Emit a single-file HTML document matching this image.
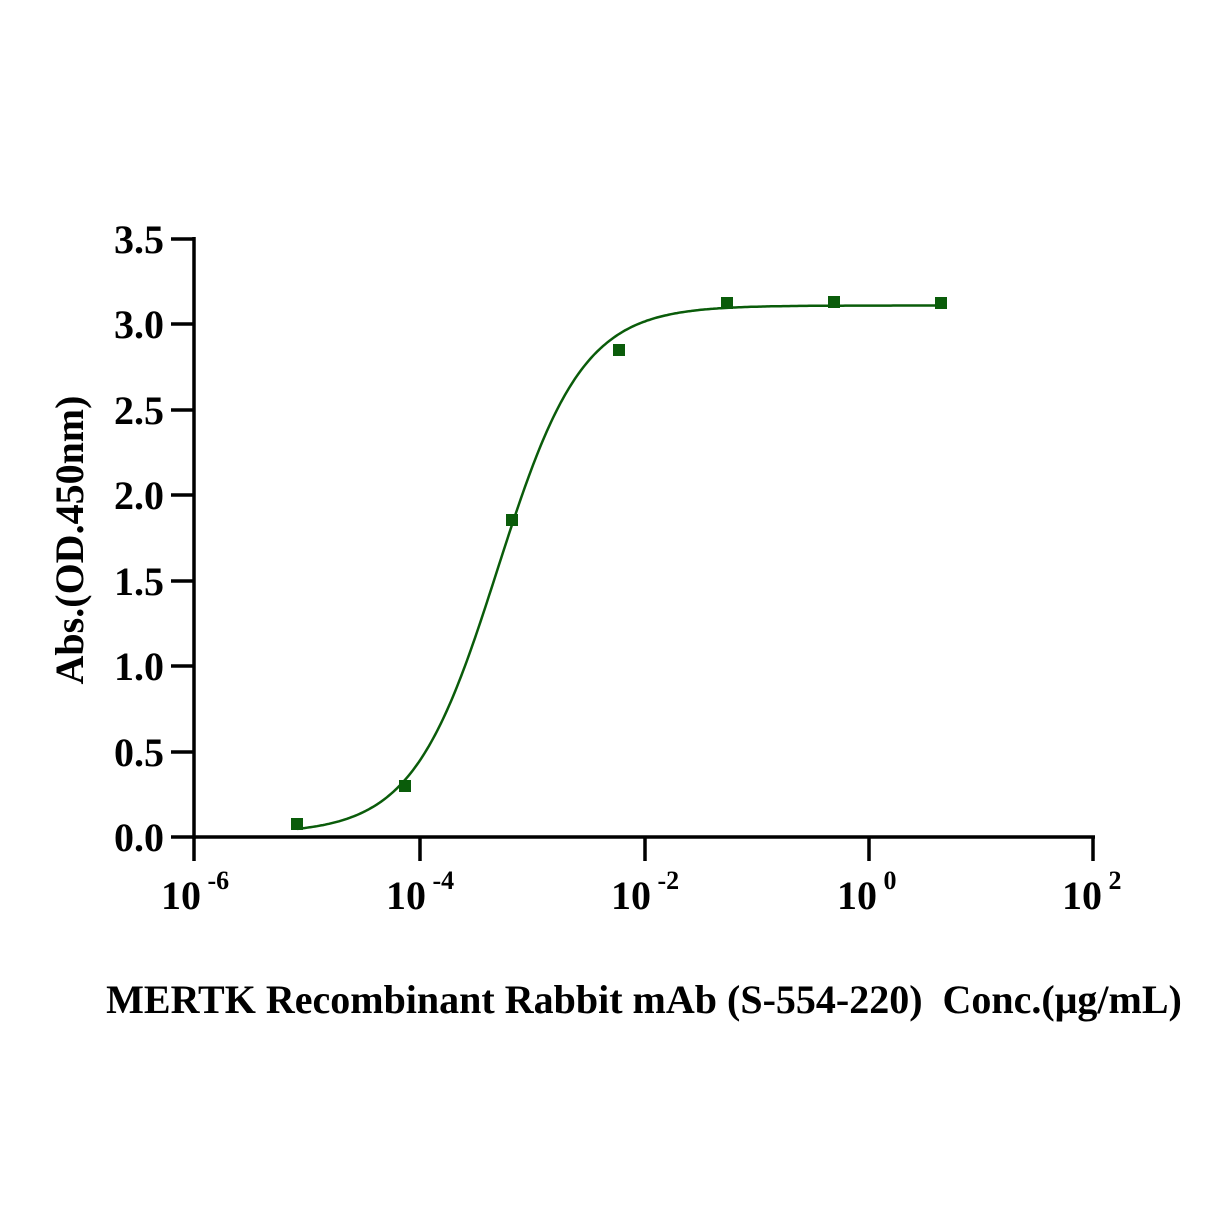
<!DOCTYPE html>
<html><head><style>body{margin:0;background:#fff}svg{display:block}</style></head><body>
<svg id="s" width="1226" height="1226" xmlns="http://www.w3.org/2000/svg" font-family="Liberation Serif, serif" font-weight="bold">
<g stroke="#000" stroke-width="3.5" fill="none">
<line x1="194" y1="237" x2="194" y2="839"/>
<line x1="171" y1="837" x2="1095" y2="837"/>
<line x1="171" y1="239" x2="194" y2="239"/>
<line x1="171" y1="324" x2="194" y2="324"/>
<line x1="171" y1="410" x2="194" y2="410"/>
<line x1="171" y1="495" x2="194" y2="495"/>
<line x1="171" y1="581" x2="194" y2="581"/>
<line x1="171" y1="666" x2="194" y2="666"/>
<line x1="171" y1="752" x2="194" y2="752"/>
<line x1="194" y1="837" x2="194" y2="861"/>
<line x1="420" y1="837" x2="420" y2="861"/>
<line x1="645" y1="837" x2="645" y2="861"/>
<line x1="869" y1="837" x2="869" y2="861"/>
<line x1="1093" y1="837" x2="1093" y2="861"/>
</g>
<g font-size="40" text-anchor="end">
<text x="164" y="253">3.5</text><text x="164" y="338">3.0</text><text x="164" y="424">2.5</text>
<text x="164" y="509">2.0</text><text x="164" y="595">1.5</text><text x="164" y="680">1.0</text>
<text x="164" y="766">0.5</text><text x="164" y="851">0.0</text>
</g>
<g font-size="40">
<text x="161" y="909">10<tspan font-size="26" dy="-20" xml:space="preserve"> -6</tspan></text>
<text x="386" y="909">10<tspan font-size="26" dy="-20" xml:space="preserve"> -4</tspan></text>
<text x="611" y="909">10<tspan font-size="26" dy="-20" xml:space="preserve"> -2</tspan></text>
<text x="837" y="909">10<tspan font-size="26" dy="-20" xml:space="preserve"> 0</tspan></text>
<text x="1062" y="909">10<tspan font-size="26" dy="-20" xml:space="preserve"> 2</tspan></text>
</g>
<text x="644" y="1013" font-size="40" text-anchor="middle" xml:space="preserve" style="white-space:pre">MERTK Recombinant Rabbit mAb (S-554-220)  Conc.(μg/mL)</text>
<text transform="translate(83,540) rotate(-90)" font-size="40" text-anchor="middle">Abs.(OD.450nm)</text>
<path id="c" fill="none" stroke="#0a5c0a" stroke-width="2.5"/>
<g fill="#0a5c0a">
<rect x="291" y="818" width="12" height="12"/><rect x="399" y="780" width="12" height="12"/>
<rect x="506" y="514" width="12" height="12"/><rect x="613" y="344" width="12" height="12"/>
<rect x="721" y="297" width="12" height="12"/><rect x="828" y="296" width="12" height="12"/>
<rect x="935" y="297" width="12" height="12"/>
</g>
</svg>
<script>
var d="";for(var x=297;x<=941;x+=2){var l=-6+(x-194)/112.4;var v=0.02+3.09/(1+Math.pow(10,(-3.30-l)*1.15));var y=837-v*170.9;d+=(x==297?"M":"L")+x+","+y.toFixed(1);}
document.getElementById("c").setAttribute("d",d);
</script>
</body></html>
